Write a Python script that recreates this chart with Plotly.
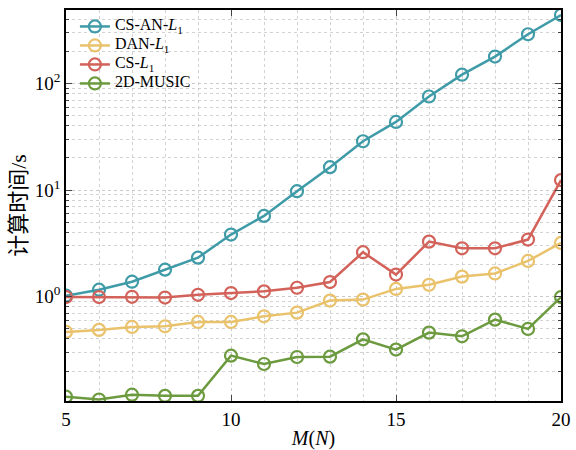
import plotly.graph_objects as go

M = [5, 6, 7, 8, 9, 10, 11, 12, 13, 14, 15, 16, 17, 18, 19, 20]
cs_an_l1 = [1.02, 1.16, 1.38, 1.79, 2.32, 3.82, 5.72, 9.75, 16.4, 28.7, 43.6, 75.5, 121, 179, 290, 440]
dan_l1 = [0.466, 0.487, 0.519, 0.526, 0.578, 0.578, 0.653, 0.707, 0.917, 0.937, 1.18, 1.29, 1.54, 1.65, 2.16, 3.19]
cs_l1 = [0.99, 0.99, 0.995, 0.98, 1.04, 1.08, 1.12, 1.21, 1.37, 2.61, 1.61, 3.28, 2.84, 2.84, 3.43, 12.4]
music2d = [0.115, 0.108, 0.120, 0.117, 0.117, 0.279, 0.233, 0.271, 0.273, 0.397, 0.318, 0.459, 0.424, 0.608, 0.497, 0.99]

series_names = ["CS-AN-<i>L</i><sub>1</sub>", "DAN-<i>L</i><sub>1</sub>", "CS-<i>L</i><sub>1</sub>", "2D-MUSIC"]
series_values = [cs_an_l1, dan_l1, cs_l1, music2d]
colors = ["#3E9BA7", "#E9C26B", "#D2625A", "#6C9A3E"]

ytick_vals = [1, 10, 100]
ytick_text = ["10<sup>0</sup>", "10<sup>1</sup>", "10<sup>2</sup>"]
xtick_vals = [5, 10, 15, 20]

fig = go.Figure()
for name, vals, c in zip(series_names, series_values, colors):
    fig.add_trace(go.Scatter(
        x=M, y=vals, name='<span style="font-size:16px">' + name + '</span>',
        mode="lines+markers",
        line=dict(color=c, width=2.5),
        marker=dict(symbol="circle-open", size=12, color=c, line=dict(width=2.2, color=c)),
    ))

font_main = "Liberation Serif, Times New Roman, Noto Sans CJK SC, serif"
grid_c = "rgba(200,200,200,0.8)"

fig.update_layout(
    width=576, height=450,
    margin=dict(l=66, r=15, t=10, b=49),
    paper_bgcolor="white", plot_bgcolor="white",
    font=dict(family=font_main, size=19, color="black"),
    showlegend=True,
    legend=dict(x=0.018, y=0.995, xanchor="left", yanchor="top",
                bgcolor="rgba(255,255,255,0)", font=dict(size=10, family=font_main),
                tracegroupgap=0, itemwidth=30),
    xaxis=dict(
        range=[5, 20], tickvals=xtick_vals, ticks="inside", ticklen=6, tickwidth=1.2,
        showline=True, linecolor="black", linewidth=1.5, mirror="ticks",
        showgrid=True, gridcolor=grid_c, griddash="dot", gridwidth=1,
        minor=dict(dtick=1, showgrid=True, gridcolor=grid_c, griddash="dot", ticklen=0),
        title=dict(text="<i>M</i>(<i>N</i>)", font=dict(size=20), standoff=8),
        zeroline=False, tickfont=dict(size=19), automargin=False,
    ),
    yaxis=dict(
        type="log", range=[-0.98, 2.69], tickvals=ytick_vals, ticktext=ytick_text,
        ticks="inside", ticklen=6, tickwidth=1.2,
        showline=True, linecolor="black", linewidth=1.5, mirror="ticks",
        showgrid=True, gridcolor=grid_c, griddash="dot", gridwidth=1,
        minor=dict(dtick="D1", ticks="inside", ticklen=3, tickwidth=1,
                   showgrid=True, gridcolor=grid_c, griddash="dot"),
        title=dict(text="计算时间/s", font=dict(size=22), standoff=2),
        zeroline=False, tickfont=dict(size=19), automargin=False,
    ),
)

fig.write_html("out.html", config={"displayModeBar": False},
               post_script="document.body.style.margin='0';document.body.style.padding='0';")
